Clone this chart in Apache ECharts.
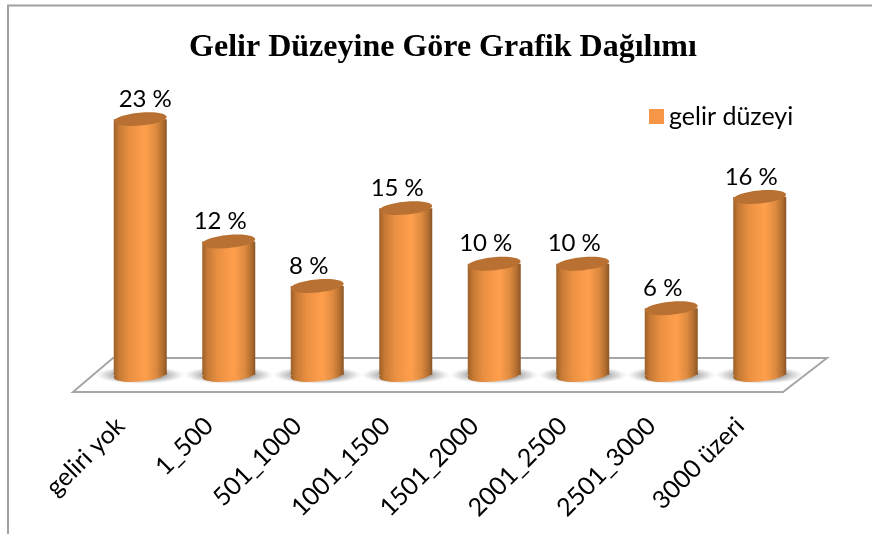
<!DOCTYPE html>
<html><head><meta charset="utf-8">
<style>html,body{margin:0;padding:0;background:#fff}#c{width:872px;height:534px}</style>
<script src="https://cdn.jsdelivr.net/npm/echarts@6/dist/echarts.min.js"></script></head>
<body><div id="c"></div>
<script>
var categories = ['geliri yok','1_500','501_1000','1001_1500','1501_2000','2001_2500','2501_3000','3000 üzeri'];
var values = [23,12,8,15,10,10,6,16];
var seriesName = 'gelir düzeyi';
var titleText = 'Gelir Düzeyine Göre Grafik Dağılımı';

var chart = echarts.init(document.getElementById('c'), null, {renderer:'canvas'});
var RX = 26.5, RY = 6.5, ROT = 0.09;
var bodyGrad = new echarts.graphic.LinearGradient(0,0,1,0,[
  {offset:0,color:'#9c6029'},{offset:0.1,color:'#c67a35'},{offset:0.3,color:'#ea9042'},
  {offset:0.6,color:'#ff9f4c'},{offset:0.8,color:'#dd8a40'},{offset:0.93,color:'#b06d30'},{offset:1,color:'#8a5526'}]);
var shadowGrad = new echarts.graphic.RadialGradient(0.5,0.5,0.5,[
  {offset:0,color:'rgba(135,135,135,0.95)'},{offset:0.55,color:'rgba(150,150,150,0.8)'},{offset:0.8,color:'rgba(185,185,185,0.45)'},{offset:1,color:'rgba(220,220,220,0)'}]);

function renderItem(params, api){
  var p0 = api.coord([api.value(0),0]);
  var x = p0[0], y0 = p0[1];
  var yt = api.coord([api.value(0),api.value(1)])[1];
  var labelDx = api.value(0) === 0 ? 5 : -8.5;
  return {type:'group',children:[
    {type:'circle',shape:{cx:0,cy:0,r:9},x:x,y:y0,scaleX:5,scaleY:1,style:{fill:shadowGrad},z2:1},
    {type:'rect',shape:{x:x-RX,y:yt,width:RX*2,height:y0-yt},style:{fill:bodyGrad},z2:3},
    {type:'ellipse',shape:{cx:x,cy:y0,rx:RX,ry:RY},originX:x,originY:y0,rotation:ROT,style:{fill:bodyGrad},z2:3},
    {type:'ellipse',shape:{cx:x,cy:yt,rx:RX,ry:RY},originX:x,originY:yt,rotation:ROT,style:{fill:'#b87132'},z2:4},
    {type:'text',x:x+labelDx,y:yt-20,style:{text:api.value(1)+' %',fill:'#000',font:'24px Lato',align:'center',verticalAlign:'middle'},z2:5}
  ]};
}

chart.setOption({
  animation:false,
  backgroundColor:'#fff',
  title:{text:titleText,left:438,top:27,textAlign:'center',textStyle:{fontFamily:'Liberation Serif',fontWeight:'bold',fontSize:32,color:'#000'}},
  legend:{data:[{name:seriesName,icon:'rect'}],left:644,top:99,itemWidth:15,itemHeight:15,itemGap:5,textStyle:{fontFamily:'Lato',fontSize:25,color:'#000'}},
  grid:{left:96,right:68,top:19,bottom:159},
  xAxis:{type:'category',data:categories,axisLine:{show:false},axisTick:{show:false},
    axisLabel:{rotate:45,interval:0,margin:27,padding:[0,28,0,0],fontFamily:'Lato',fontSize:25,color:'#000'}},
  yAxis:{type:'value',min:0,max:32,show:false},
  graphic:[
    {type:'polygon',z:0,shape:{points:[[73,392],[113,358],[827,358],[783,392]]},style:{fill:'#fff',stroke:'#a6a6a6',lineWidth:2}},
    {type:'polyline',z:0,shape:{points:[[8,534],[8,5.5],[872,5.5]]},style:{fill:'none',stroke:'#a0a0a0',lineWidth:2}}
  ],
  series:[{type:'custom',name:seriesName,z:5,renderItem:renderItem,itemStyle:{color:'#f79646'},
    encode:{x:0,y:1},data:values.map(function(v,i){return [i,v];})}]
});
</script></body></html>
